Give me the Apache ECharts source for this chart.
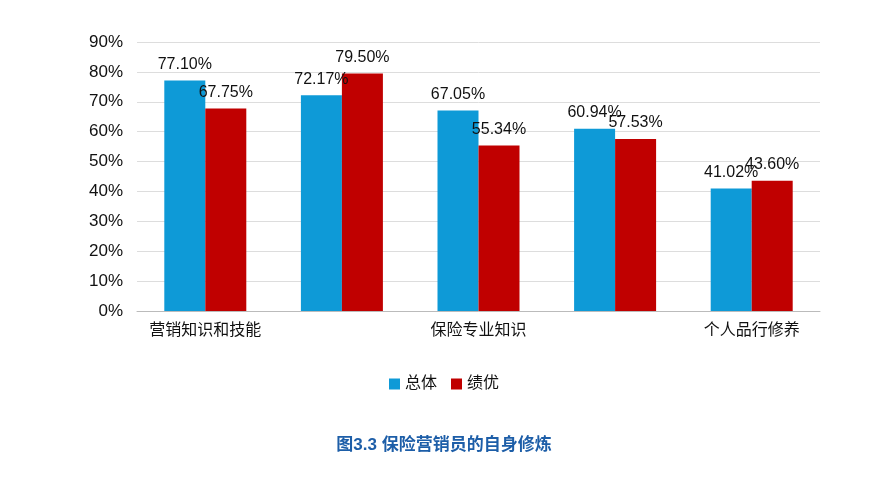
<!DOCTYPE html>
<html><head><meta charset="utf-8">
<script src="https://cdn.jsdelivr.net/npm/echarts@6/dist/echarts.min.js"></script>
<style>html,body{margin:0;padding:0;background:#fff}#c{width:888px;height:500px}</style>
</head><body><div id="c"></div>
<script>
const categories = ['营销知识和技能','金融知识','保险专业知识','人际交往','个人品行修养'];
const overall = [77.10, 72.17, 67.05, 60.94, 41.02];
const excellent = [67.75, 79.50, 55.34, 57.53, 43.60];
const seriesNames = ['总体','绩优'];
const font = '"Liberation Sans", "Noto Sans CJK SC", sans-serif';
const chart = echarts.init(document.getElementById('c'));
const lbl = {show:true, position:'top', color:'#111', fontSize:16, fontFamily:font, distance:8, formatter: p => p.value.toFixed(2)+'%'};
chart.setOption({
  animation:false,
  title:{text:'图3.3 保险营销员的自身修炼', left:'center', top:432, textStyle:{color:'#1d5ea8', fontSize:17, fontWeight:'bold', fontFamily:font}},
  legend:{data:seriesNames, top:371, left:'center', itemWidth:11, itemHeight:11, icon:'rect', itemGap:14, textStyle:{fontSize:16, fontFamily:font, color:'#111'}},
  grid:{left:137, right:68, top:42, bottom:189},
  xAxis:{type:'category', data:categories, axisTick:{show:false}, axisLine:{lineStyle:{color:'#bbb'}}, axisLabel:{fontSize:16, fontFamily:font, color:'#111', margin:12}},
  yAxis:{type:'value', min:0, max:90, interval:10, axisLabel:{formatter:'{value}%', fontSize:17, fontFamily:font, color:'#111', margin:14}, splitLine:{lineStyle:{color:'#ddd'}}},
  series:[
    {name:seriesNames[0], type:'bar', data:overall, barWidth:41, barGap:'0%', itemStyle:{color:'#0e9ad7'}, label:lbl},
    {name:seriesNames[1], type:'bar', data:excellent, barWidth:41, itemStyle:{color:'#c00000'}, label:lbl}
  ]
});
</script></body></html>
